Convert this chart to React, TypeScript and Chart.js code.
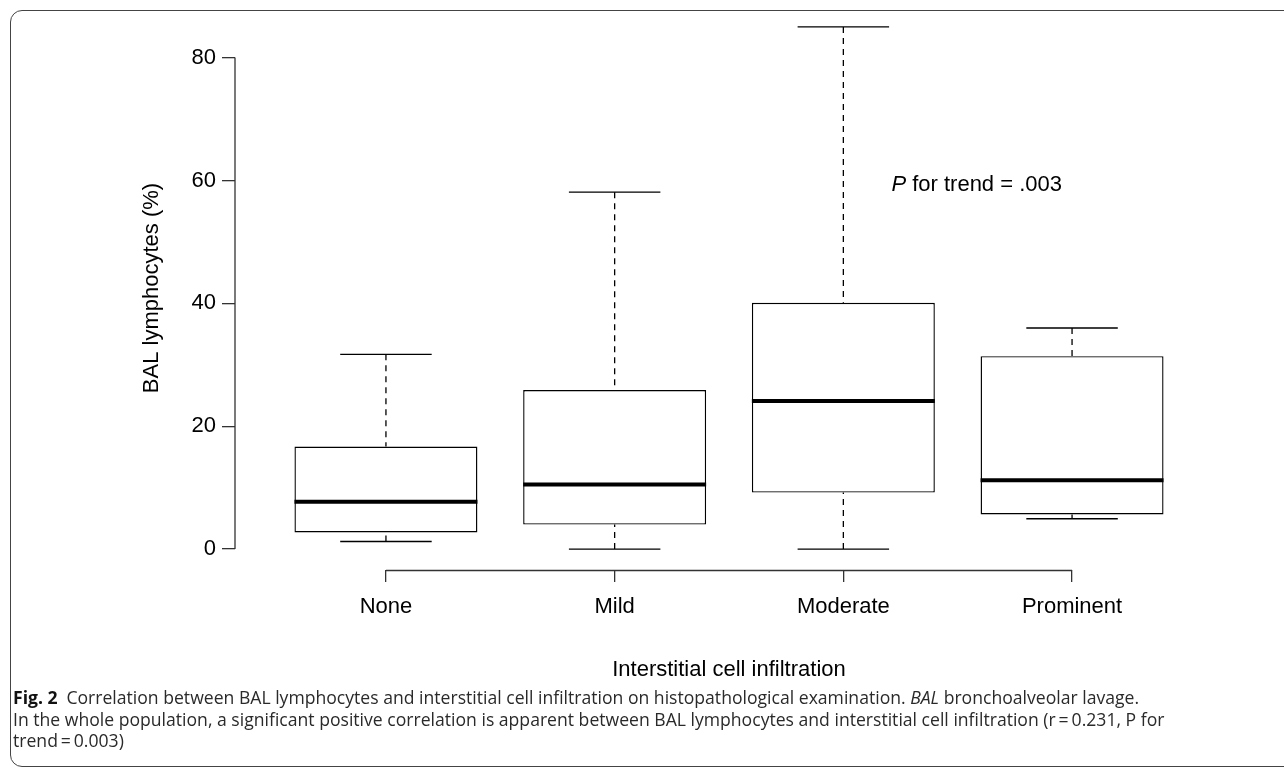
import React, { useEffect, useRef } from "react";
import { Chart, registerables } from "chart.js";

Chart.register(...registerables);

// ---- data ----
const categories = ["None", "Mild", "Moderate", "Prominent"];
const positions = [1, 2, 3, 4];
const whiskerLow = [1.25, 0, 0, 4.95];
const q1 = [2.7, 4.0, 9.2, 5.65];
const medians = [7.7, 10.5, 24.1, 11.2];
const q3 = [16.7, 25.9, 40.1, 31.4];
const whiskerHigh = [31.7, 58.1, 85.0, 36.0];
const yTicks = [0, 20, 40, 60, 80];
const yTitle = "BAL lymphocytes (%)";
const xTitle = "Interstitial cell infiltration";
const annotationItalic = "P";
const annotationRest = " for trend = .003";
const annotationX = 3.21;
const annotationY = 59.3;

const FONT = "'Liberation Sans', Arial, Helvetica, sans-serif";
const INK = "#000";
const AXIS = "#333";

const boxPlugin = {
  id: "boxExtras",
  afterDatasetsDraw(chart: any) {
    const { ctx, scales } = chart;
    const x = scales.x;
    const y = scales.y;
    ctx.save();
    positions.forEach((p, i) => {
      const cx = x.getPixelForValue(p);
      const capL = x.getPixelForValue(p - 0.2);
      const capR = x.getPixelForValue(p + 0.2);
      const boxL = x.getPixelForValue(p - 0.4);
      const boxR = x.getPixelForValue(p + 0.4);
      // whiskers (dashed)
      ctx.strokeStyle = INK;
      ctx.lineWidth = 1.3;
      ctx.setLineDash([6, 5]);
      ctx.beginPath();
      ctx.moveTo(cx, y.getPixelForValue(whiskerHigh[i]));
      ctx.lineTo(cx, y.getPixelForValue(q3[i]));
      ctx.moveTo(cx, y.getPixelForValue(whiskerLow[i]));
      ctx.lineTo(cx, y.getPixelForValue(q1[i]));
      ctx.stroke();
      ctx.setLineDash([]);
      // caps
      ctx.lineWidth = 1.4;
      ctx.beginPath();
      const yh = y.getPixelForValue(whiskerHigh[i]);
      const yl = y.getPixelForValue(whiskerLow[i]);
      ctx.moveTo(capL, yh);
      ctx.lineTo(capR, yh);
      ctx.moveTo(capL, yl);
      ctx.lineTo(capR, yl);
      ctx.stroke();
      // median
      ctx.lineWidth = 4;
      ctx.beginPath();
      const ym = y.getPixelForValue(medians[i]);
      ctx.moveTo(boxL, ym);
      ctx.lineTo(boxR, ym);
      ctx.stroke();
    });
    // axis lines (R style: span tick range only)
    ctx.strokeStyle = AXIS;
    ctx.lineWidth = 1.3;
    ctx.beginPath();
    const ax = chart.chartArea.left;
    ctx.moveTo(ax, y.getPixelForValue(yTicks[0]));
    ctx.lineTo(ax, y.getPixelForValue(yTicks[yTicks.length - 1]));
    const ay = chart.chartArea.bottom + 0.5;
    ctx.moveTo(x.getPixelForValue(positions[0]), ay);
    ctx.lineTo(x.getPixelForValue(positions[positions.length - 1]), ay);
    ctx.stroke();
    // annotation
    ctx.fillStyle = INK;
    ctx.textBaseline = "middle";
    ctx.textAlign = "left";
    const tx = x.getPixelForValue(annotationX);
    const ty = y.getPixelForValue(annotationY);
    ctx.font = `italic 22px ${FONT}`;
    ctx.fillText(annotationItalic, tx, ty);
    const w = ctx.measureText(annotationItalic).width;
    ctx.font = `22px ${FONT}`;
    ctx.fillText(annotationRest, tx + w, ty);
    ctx.restore();
  },
};

export default function App() {
  const canvasRef = useRef<HTMLCanvasElement | null>(null);

  useEffect(() => {
    const canvas = canvasRef.current;
    if (!canvas) return;
    const chart = new Chart(canvas, {
      type: "bar",
      data: {
        datasets: [
          {
            data: positions.map((p, i) => ({ x: p, y: [q1[i], q3[i]] })) as any,
            backgroundColor: "#fff",
            borderColor: INK,
            borderWidth: 1.4,
            borderSkipped: false,
            categoryPercentage: 1,
            barPercentage: 0.8,
          },
        ],
      },
      options: {
        animation: false,
        responsive: false,
        maintainAspectRatio: false,
        events: [],
        layout: { padding: { left: 0, top: 6, right: 61, bottom: 0 } },
        plugins: { legend: { display: false }, tooltip: { enabled: false } },
        scales: {
          x: {
            type: "linear",
            offset: false,
            min: 0.34,
            max: 4.66,
            afterBuildTicks: (s: any) => {
              s.ticks = positions.map((v) => ({ value: v }));
            },
            afterFit: (s: any) => {
              s.height = 201;
              s.paddingLeft = 0;
              s.paddingRight = 0;
              s.paddingTop = 0;
              s.paddingBottom = 0;
            },
            grid: {
              offset: false,
              drawOnChartArea: false,
              drawTicks: true,
              tickLength: 12,
              color: AXIS,
              lineWidth: 1.3,
            },
            border: { display: false },
            ticks: {
              autoSkip: false,
              maxRotation: 0,
              padding: 12,
              color: INK,
              font: { family: FONT, size: 22 },
              callback: (v: any) => categories[positions.indexOf(Number(v))] ?? "",
            },
            title: {
              display: true,
              text: xTitle,
              color: INK,
              font: { family: FONT, size: 22 },
              padding: { top: 0, bottom: 88 },
            },
          },
          y: {
            type: "linear",
            min: -3.4,
            max: 88.4,
            afterBuildTicks: (s: any) => {
              s.ticks = yTicks.map((v) => ({ value: v }));
            },
            afterFit: (s: any) => {
              s.width = 235;
              s.paddingTop = 0;
              s.paddingBottom = 0;
              s.paddingLeft = 0;
              s.paddingRight = 0;
            },
            grid: {
              drawOnChartArea: false,
              drawTicks: true,
              tickLength: 13,
              color: AXIS,
              lineWidth: 1.3,
            },
            border: { display: false },
            ticks: {
              padding: 6,
              color: INK,
              font: { family: FONT, size: 22 },
            },
            title: {
              display: true,
              text: yTitle,
              color: INK,
              font: { family: FONT, size: 22 },
              padding: { top: 139, bottom: 0 },
            },
          },
        },
      },
      plugins: [boxPlugin],
    });
    return () => chart.destroy();
  }, []);

  const capStyle: React.CSSProperties = {
    position: "absolute",
    left: 13,
    whiteSpace: "nowrap",
    fontFamily: "'Open Sans', Lato, sans-serif",
    fontSize: 17.6,
    color: "#2a2a2a",
    lineHeight: "21px",
  };

  return (
    <div
      style={{
        position: "absolute",
        left: 0,
        top: 0,
        width: 1284,
        height: 771,
        overflow: "hidden",
        background: "#fff",
      }}
    >
      <div
        style={{
          position: "absolute",
          left: 10,
          top: 10,
          width: 1320,
          height: 757,
          border: "1px solid #444",
          borderRadius: 12,
          boxSizing: "border-box",
        }}
      />
      <canvas
        ref={canvasRef}
        width={1284}
        height={771}
        style={{ position: "absolute", left: 0, top: 0, width: 1284, height: 771 }}
      />
      <div style={{ ...capStyle, top: 687 }}>
        <b style={{ color: "#111" }}>Fig. 2</b>
        {"\u2002Correlation between BAL lymphocytes and interstitial cell infiltration on histopathological examination. "}
        <i>BAL</i>
        {" bronchoalveolar lavage."}
      </div>
      <div style={{ ...capStyle, top: 709 }}>
        {"In the whole population, a significant positive correlation is apparent between BAL lymphocytes and interstitial cell infiltration (r\u2009=\u20090.231, P for"}
      </div>
      <div style={{ ...capStyle, top: 730 }}>{"trend\u2009=\u20090.003)"}</div>
    </div>
  );
}
